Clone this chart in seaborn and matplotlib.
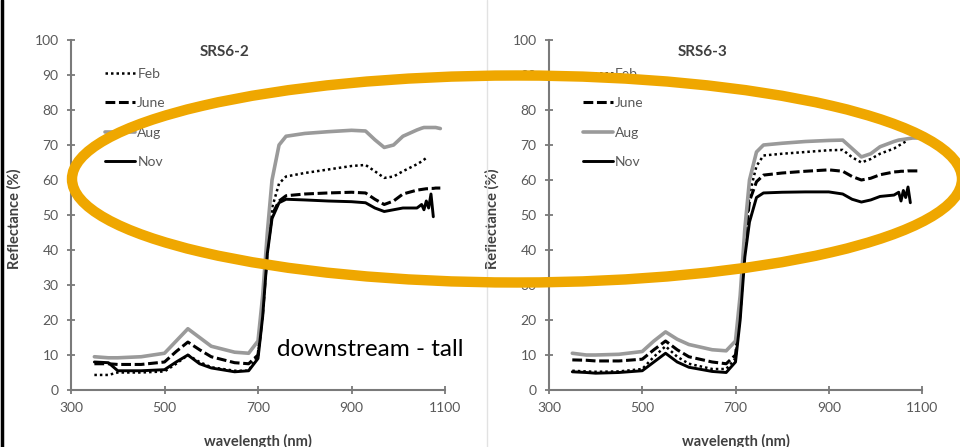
import numpy as np
import pandas as pd
import matplotlib
matplotlib.use("Agg")
import matplotlib.pyplot as plt
import seaborn as sns
from matplotlib.lines import Line2D
from matplotlib.patches import Ellipse

sns.set_style("white")
plt.rcParams["font.family"] = ["Lato", "DejaVu Sans"]

# wavelength grid (nm), shared by every series
wavelength = [350, 380, 400, 450, 500, 525, 550, 575, 600, 650, 680, 700, 710, 720,
              730, 745, 760, 800, 850, 900, 930, 950, 970, 990, 1010, 1040, 1050,
              1055, 1060, 1065, 1070, 1075, 1080, 1090]
months = ["Feb", "June", "Aug", "Nov"]
N = None

# SRS6-2 reflectance (%)
feb_62 = [4.3, 4.3, 5.0, 5.0, 5.3, 7.5, 10.0, 8.0, 6.5, 5.5, 5.5, 10, 22, 40, 52, 59, 61, 62,
          63, 64, 64.3, 62.5, 60.6, 61, 62.5, 64.5, 65.3, 65.8, 66.3, N, N, N, N, N]
june_62 = [7.5, 7.5, 7.3, 7.3, 8.0, 11, 13.7, 11.5, 9.5, 7.8, 7.5, 10, 22, 40, 50, 54, 55.5, 56,
           56.3, 56.5, 56.3, 54.5, 53, 54, 56, 57.1, 57.3, 57.4, 57.5, 57.5, 57.6, 57.6, 57.7, 57.7]
aug_62 = [9.5, 9.2, 9.2, 9.5, 10.5, 14, 17.5, 15, 12.5, 10.8, 10.5, 14, 27, 45, 60, 70, 72.5, 73.3,
          73.8, 74.2, 74, 71.5, 69.3, 70, 72.5, 74.3, 74.8, 75, 75, 75, 75, 75, 75, 74.7]
nov_62 = [8, 7.8, 5.5, 5.5, 5.8, 8, 10, 7.5, 6.3, 5.2, 5.5, 9, 21, 39, 49, 53.5, 54.5, 54.3,
          54, 53.8, 53.5, 52, 51, 51.5, 52, 52, 53, 51.5, 54, 52, 56, 49.5, N, N]

# SRS6-3 reflectance (%)
feb_63 = [5.5, 5.3, 5.2, 5.3, 6, 9.5, 12.5, 9.5, 7.5, 6, 6, 9, 22, 42, 56, 64, 67, 67.5,
          68, 68.5, 68.6, 66.5, 65, 66, 67.5, 69, 69.8, 70.2, 70.6, 71, N, N, N, N]
june_63 = [8.6, 8.5, 8.3, 8.3, 8.8, 11.5, 14, 11.5, 9.5, 8, 7.5, 10, 22, 42, 54, 59.5, 61.4, 62,
           62.5, 62.9, 62.5, 61, 60, 60.5, 61.5, 62.3, 62.4, 62.5, 62.5, 62.5, 62.6, 62.6, 62.6, 62.6]
aug_63 = [10.5, 10, 10, 10.2, 11, 14, 16.6, 14.5, 13, 11.5, 11.2, 14, 27, 46, 60, 68, 70, 70.5,
          71, 71.3, 71.4, 69, 66.6, 67.5, 69.5, 71, 71.4, 71.5, 71.6, 71.7, 71.8, 71.9, 72, 72]
nov_63 = [5.2, 5, 4.8, 5, 5.5, 8, 10.5, 8, 6.5, 5.3, 5, 8, 20, 38, 48, 55, 56.3, 56.5,
          56.6, 56.6, 56, 54.5, 53.7, 54.3, 55.3, 55.7, 56.5, 54, 57, 55, 58, 53.5, N, N]


def to_long(site, series):
    rows = []
    for month, vals in zip(months, series):
        for w, v in zip(wavelength, vals):
            if v is not None:
                rows.append({"site": site, "month": month, "wavelength": w, "reflectance": v})
    return pd.DataFrame(rows)


df = pd.concat([to_long("SRS6-2", [feb_62, june_62, aug_62, nov_62]),
                to_long("SRS6-3", [feb_63, june_63, aug_63, nov_63])])

colors = {"Feb": "black", "June": "black", "Aug": "#9a9a9a", "Nov": "black"}
dashes = {"Feb": (1, 1.2), "June": (3.2, 1.2), "Aug": "", "Nov": ""}
widths = {"Feb": 1.8, "June": 2.2, "Aug": 2.6, "Nov": 2.1}

fig = plt.figure(figsize=(9.6, 4.47), dpi=100)
W, H = 960, 447
axes_px = [(71, 445), (549, 922)]
axis_col = "#7a7a7a"
txt_col = "#595959"

for (x0, x1), site in zip(axes_px, ["SRS6-2", "SRS6-3"]):
    ax = fig.add_axes([x0 / W, 1 - 390 / H, (x1 - x0) / W, 350 / H])
    sns.lineplot(data=df[df["site"] == site], x="wavelength", y="reflectance",
                 hue="month", style="month", size="month", hue_order=months,
                 style_order=months, size_order=months, palette=colors,
                 dashes=dashes, sizes=widths, estimator=None, errorbar=None,
                 legend=False, ax=ax)
    ax.set_xlim(300, 1100)
    ax.set_ylim(0, 100)
    ax.set_xticks(range(300, 1101, 200))
    ax.set_yticks(range(0, 101, 10))
    for s in ["top", "right"]:
        ax.spines[s].set_visible(False)
    for s in ["left", "bottom"]:
        ax.spines[s].set_color(axis_col)
        ax.spines[s].set_linewidth(1.5)
    ax.tick_params(bottom=True, left=True, direction="inout", length=6, width=1.3,
                   color=axis_col, labelsize=10, labelcolor=txt_col, pad=6)
    ax.grid(False)
    ax.set_xlabel("wavelength (nm)", fontsize=10.5, fontweight="bold", color="#404040")
    ax.set_ylabel("Reflectance (%)", fontsize=10.5, fontweight="bold", color="#404040")
    ax.xaxis.set_label_coords(0.5, -0.125)
    ax.yaxis.set_label_coords(-0.133, 0.49)
    ax.text(0.412, 0.966, site, transform=ax.transAxes, ha="center", va="center",
            fontsize=11, fontweight="bold", color="#404040")

    handles = [Line2D([], [], color=colors[m], lw=widths[m],
                      dashes=dashes[m] if dashes[m] else (None, None)) for m in months]
    ax.legend(handles, months, loc="upper left", bbox_to_anchor=(0.09, 0.92),
              frameon=False, fontsize=10, labelspacing=1.25, handlelength=2.2,
              handletextpad=0.15, borderaxespad=0, borderpad=0, labelcolor=txt_col)

# frame details of the screenshot
fig.add_artist(Line2D([487 / W, 487 / W], [0, 1], color="#e2e2e2", lw=1))
fig.add_artist(Line2D([1.5 / W, 1.5 / W], [0, 1], color="black", lw=2.5))

fig.text(277 / W, 1 - 349 / H, "downstream - tall", fontsize=17.5, color="black",
         ha="left", va="center")

fig.add_artist(Ellipse((517 / W, 1 - 179 / H), 890 / W, 207 / H, fill=False,
                       edgecolor="#EFA700", lw=7.5, zorder=5, transform=fig.transFigure))

fig.savefig("out.png", dpi=100)
